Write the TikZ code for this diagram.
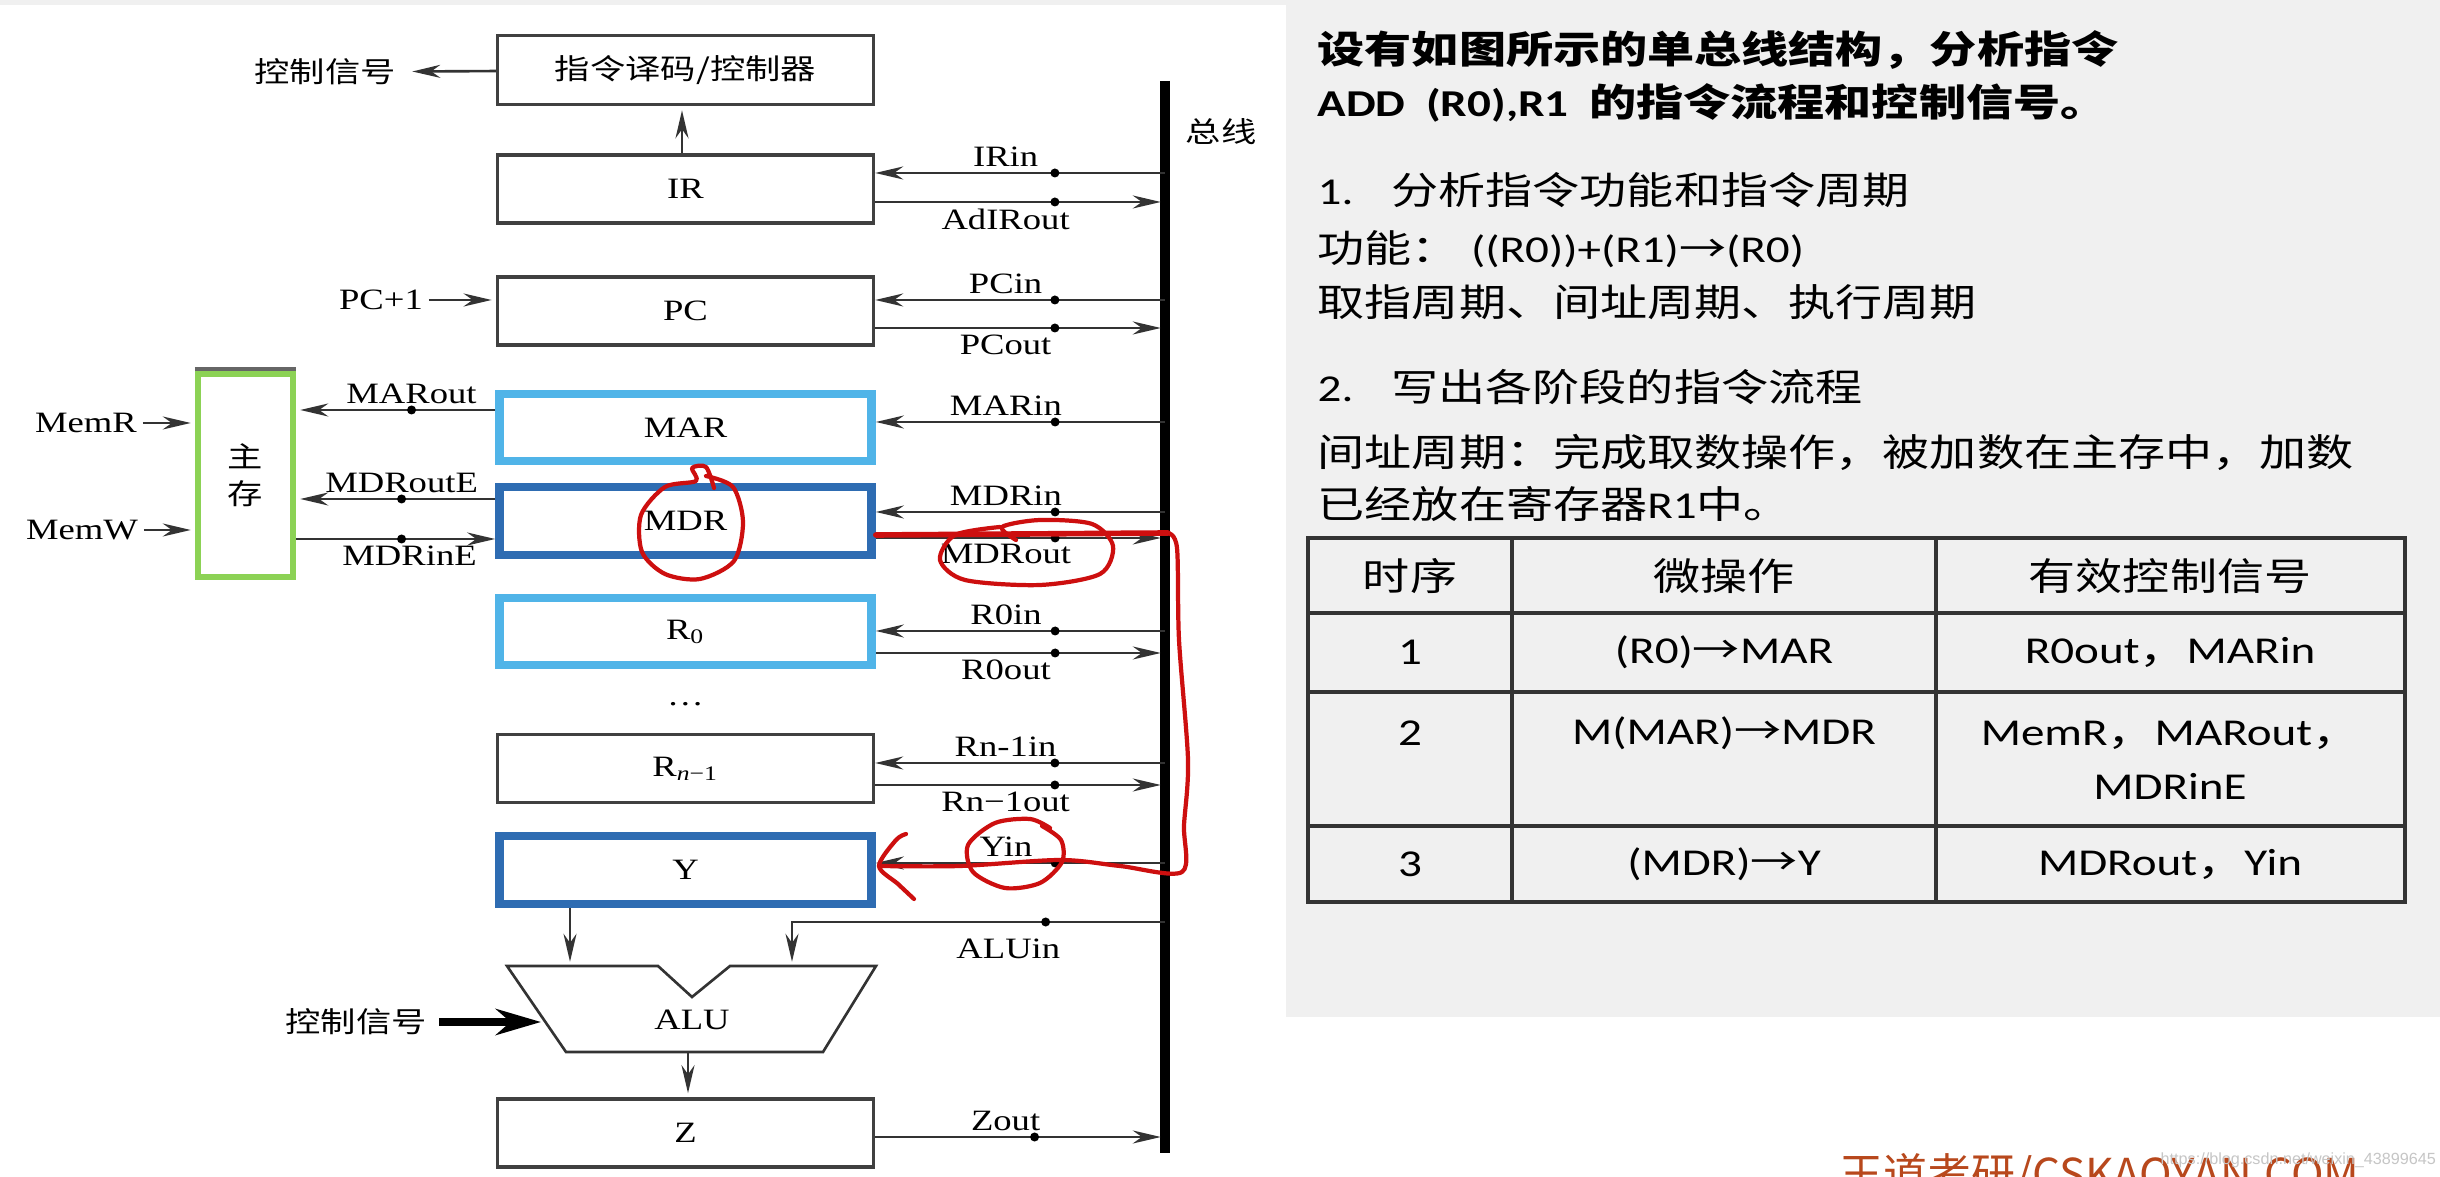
\documentclass[tikz,border=0pt]{standalone}
\usepackage{fontspec}
\setmainfont{Liberation Serif}[FakeStretch=1.24]
\newfontfamily\cjk{Noto Sans CJK SC}[FakeStretch=1.24]
\newfontfamily\enf{Carlito}[FakeStretch=1.24]
\newfontfamily\wmfont{Noto Sans CJK SC}
\newfontfamily\urlfont{Liberation Sans}
\usetikzlibrary{arrows.meta}
\definecolor{skyreg}{RGB}{80,180,232}
\definecolor{deepreg}{RGB}{46,108,178}
\definecolor{memgreen}{RGB}{140,210,85}
\definecolor{pen}{RGB}{205,15,15}
\definecolor{brand}{RGB}{184,72,28}
\newcommand\labfont{\fontsize{8.4pt}{10pt}\selectfont}
\newcommand\cnfont{\cjk\fontsize{8.1pt}{10.5pt}\selectfont}
\newcommand\txfont{\cjk\fontsize{10.8pt}{15.4pt}\selectfont}
\newcommand\eng[1]{{\enf #1}}

\begin{document}
\begin{tikzpicture}[x=0.01cm, y=-0.01cm,
    reg/.style={draw=black!75, line width=0.9pt, minimum width=3.76cm, minimum height=0.68cm, inner sep=0pt, font=\labfont},
    regsky/.style={reg, draw=skyreg, line width=2.4pt, minimum width=3.72cm, minimum height=0.67cm},
    regdeep/.style={reg, draw=deepreg, line width=2.4pt, minimum width=3.72cm, minimum height=0.68cm},
    sig/.style={draw=black!80, line width=0.75pt},
    sigin/.style={sig, {Stealth[length=2.8mm,width=1.3mm]}-},
    sigout/.style={sig, -{Stealth[length=2.8mm,width=1.3mm]}, shorten >=1.2pt},
    jdot/.style={circle, fill=black, inner sep=0pt, minimum size=0.09cm},
    lab/.style={font=\labfont, inner sep=1.5pt},
    hand/.style={draw=pen, line width=1.2pt, line cap=round, line join=round},
    txt/.style={anchor=west, font=\txfont, inner sep=0pt},
    cell/.style={font=\txfont, inner sep=0pt, align=center},
    tbl/.style={draw=black!80, line width=1pt}]

  % background
  \useasboundingbox (0,0) rectangle (2440,1177);
  \fill[black!6] (0,0) rectangle (2440,1177);
  \fill[white] (0,5) rectangle (1286,1177);
  \fill[white] (1286,1017) rectangle (2440,1177);

  % bus
  \coordinate (bustop) at (1165,81);
  \coordinate (busbot) at (1165,1153);
  \draw[line width=2.6pt] (bustop) -- (busbot);
  \node[font=\cnfont] (buslab) at (1221,132) {总线};

  % registers
  \node[reg, minimum height=0.69cm, font=\cnfont] (cu) at (685.5,70) {指令译码/控制器};
  \node[reg] (ir) at (685.5,189) {IR};
  \node[reg] (pc) at (685.5,311) {PC};
  \node[regsky] (mar) at (685.5,427.5) {MAR};
  \node[regdeep] (mdr) at (685.5,521) {MDR};
  \node[regsky] (r0) at (685.5,631.5) {R\textsubscript{0}};
  \node[font=\labfont] (vdots) at (685.5,704) {…};
  \node[reg] (rn) at (685.5,768.5) {R\textsubscript{\textit{n}−1}};
  \node[regdeep] (yreg) at (685.5,870) {Y};
  \node[reg] (zreg) at (685.5,1133) {Z};

  % main memory
  \node[draw=memgreen, line width=1.7pt, minimum width=0.95cm, minimum height=2.03cm, inner sep=0pt, align=center, font=\cnfont] (mem) at (245.5,475.5) {主\\存};
  \draw[black!60, line width=1.2pt] ([yshift=0.6pt]mem.north west) -- ([yshift=0.6pt]mem.north east);

  % controller
  \node[font=\cnfont] (cs1) at (325,72) {控制信号};
  \draw[sigout] (cu) -- (cs1);
  \draw[sigout] (ir.north -| 682,0) -- (cu.south -| 682,0);
  \node[lab] (pcone) at (381,300) {PC+1};
  \draw[sigout] (pcone) -- (pc.west |- pcone);

  % bus lines
  \draw[sigin] (ir.east |- 0,173) -- (bustop |- 0,173) node[jdot,pos=.62]{} node[lab,above,pos=.45]{IRin};
  \draw[sigout] (ir.east |- 0,202) -- (bustop |- 0,202) node[jdot,pos=.62]{} node[lab,below,pos=.45]{AdIRout};
  \draw[sigin] (pc.east |- 0,300) -- (bustop |- 0,300) node[jdot,pos=.62]{} node[lab,above,pos=.45]{PCin};
  \draw[sigout] (pc.east |- 0,328) -- (bustop |- 0,328) node[jdot,pos=.62]{} node[lab,below,pos=.45]{PCout};
  \draw[sigin] (mar.east |- 0,422) -- (bustop |- 0,422) node[jdot,pos=.62]{} node[lab,above,pos=.45]{MARin};
  \draw[sigin] (mdr.east |- 0,512) -- (bustop |- 0,512) node[jdot,pos=.62]{} node[lab,above,pos=.45]{MDRin};
  \draw[sigout] (mdr.east |- 0,538) -- (bustop |- 0,538) node[jdot,pos=.62]{} node[lab,below,pos=.45]{MDRout};
  \draw[sigin] (r0.east |- 0,631) -- (bustop |- 0,631) node[jdot,pos=.62]{} node[lab,above,pos=.45]{R0in};
  \draw[sigout] (r0.east |- 0,653) -- (bustop |- 0,653) node[jdot,pos=.62]{} node[lab,below,pos=.45]{R0out};
  \draw[sigin] (rn.east |- 0,763) -- (bustop |- 0,763) node[jdot,pos=.62]{} node[lab,above,pos=.45]{Rn-1in};
  \draw[sigout] (rn.east |- 0,785) -- (bustop |- 0,785) node[jdot,pos=.62]{} node[lab,below,pos=.45]{Rn−1out};
  \draw[sigin] (yreg.east |- 0,863) -- (bustop |- 0,863) node[jdot,pos=.62]{} node[lab,above,pos=.45]{Yin};
  \draw[sigout] (zreg.east |- 0,1137) -- (bustop |- 0,1137) node[jdot,pos=.55]{} node[lab,above,pos=.45]{Zout};

  % memory lines
  \draw[sigout] (mar.west |- 0,410) -- (mem.east |- 0,410) node[jdot,pos=.42]{} node[lab,above,pos=.42]{MARout};
  \draw[sigout] (mdr.west |- 0,499) -- (mem.east |- 0,499) node[jdot,pos=.47]{} node[lab,above,pos=.47]{MDRoutE};
  \draw[sigin] (mdr.west |- 0,539) -- (mem.east |- 0,539) node[jdot,pos=.47]{} node[lab,below,pos=.43]{MDRinE};
  \node[lab] (memr) at (86,423) {MemR};
  \node[lab] (memw) at (82,530) {MemW};
  \draw[sigout] (memr) -- (mem.west |- memr);
  \draw[sigout] (memw) -- (mem.west |- memw);

  % ALU
  \coordinate (alul) at (570,966);
  \coordinate (alur) at (792,966);
  \coordinate (alub) at (688,1052);
  \coordinate (aluside) at (541,1022);
  \draw[sig] (507,966) -- (658,966) -- (692,997) -- (730,966) -- (876,966) -- (823,1052) -- (566,1052) -- cycle;
  \node[font=\labfont] (alu) at (692,1020) {ALU};
  \draw[sigout] (yreg.south -| alul) -- (alul);
  \draw[sigout] (bustop |- 0,922) -| (alur) node[jdot,pos=.16]{} node[lab,below=3pt,pos=.21]{ALUin};
  \draw[sigout] (alub) -- (alub |- zreg.north);
  \node[font=\cnfont] (cs2) at (356,1022) {控制信号};
  \draw[-{Stealth[length=4.5mm,width=2.6mm]}, line width=2.2pt] (cs2) -- (aluside);

  % red pen marks
  \draw[hand] plot[smooth] coordinates {(714,488) (706,467) (692,468) (696,481) (665,487) (641,515) (642,552) (665,574) (700,579) (734,561) (743,522) (733,487) (706,476)};
  \draw[hand] plot[smooth] coordinates {(1016,540) (1002,527) (1040,520) (1092,524) (1113,546) (1100,574) (1040,585) (965,580) (940,560) (955,535) (1000,527)};
  \draw[hand] plot[smooth] coordinates {(1042,826) (1061,840) (1062,862) (1040,883) (1005,888) (973,872) (968,845) (995,823) (1030,819) (1050,828)};
  \draw[hand, line width=1.6pt] (mdr.east |- 0,535) -- (1168,533);
  \draw[hand] plot[smooth] coordinates {(1168,533) (1177,548) (1179,640) (1188,760) (1184,825) (1182,872) (1120,866) (1060,860) (960,866) (879,866)};
  \draw[hand] plot[smooth] coordinates {(906,834) (896,840) (879,866) (898,884) (914,899)};

  % right panel text
  \node[txt] (t1) at (1317,50) {\bfseries 设有如图所示的单总线结构，分析指令};
  \node[txt] (t2) at (1317,103) {\bfseries \eng{\bfseries ADD\hspace{0.1cm} (R0),R1}\hspace{0.1cm} 的指令流程和控制信号。};
  \node[txt] (t3) at (1317,190) {\eng{1.}\hspace{0.38cm}分析指令功能和指令周期};
  \node[txt] (t4) at (1317,249) {功能：\hspace{0.12cm}\eng{((R0))+(R1)}→\eng{(R0)}};
  \node[txt] (t5) at (1317,302) {取指周期、间址周期、执行周期};
  \node[txt] (t6) at (1317,387) {\eng{2.}\hspace{0.38cm}写出各阶段的指令流程};
  \node[txt] (t7) at (1317,452) {间址周期：完成取数操作，被加数在主存中，加数};
  \node[txt] (t8) at (1317,504) {已经放在寄存器\eng{R1}中。};

  % table
  \draw[tbl] (1308,538) rectangle (2405,902);
  \draw[tbl] (1308,613) -- (2405,613) (1308,692) -- (2405,692) (1308,826) -- (2405,826);
  \draw[tbl] (1512,538) -- (1512,902) (1936,538) -- (1936,902);
  \node[cell] (h1) at (1410,576) {时序};
  \node[cell] (h2) at (1724,576) {微操作};
  \node[cell] (h3) at (2170,576) {有效控制信号};
  \node[cell] (a1) at (1410,652) {\eng{1}};
  \node[cell] (a2) at (1724,652) {\eng{(R0)}→\eng{MAR}};
  \node[cell] (a3) at (2170,652) {\eng{R0out}，\eng{MARin}};
  \node[cell] (b1) at (1410,733) {\eng{2}};
  \node[cell] (b2) at (1724,733) {\eng{M(MAR)}→\eng{MDR}};
  \node[cell] (b3) at (2170,760) {\eng{MemR}，\eng{MARout}，\\\eng{MDRinE}};
  \node[cell] (c1) at (1410,864) {\eng{3}};
  \node[cell] (c2) at (1724,864) {\eng{(MDR)}→\eng{Y}};
  \node[cell] (c3) at (2170,864) {\eng{MDRout}，\eng{Yin}};

  % watermarks
  \node[anchor=base west, font=\wmfont\fontsize{12.5pt}{14pt}\selectfont, text=brand, inner sep=0pt] (wm) at (1839,1190) {王道考研/CSKAOYAN.COM};
  \node[anchor=west, font=\urlfont\fontsize{4.6pt}{5pt}\selectfont, text=gray!45, inner sep=0pt] (url) at (2160,1160) {https://blog.csdn.net/weixin\_43899645};
\end{tikzpicture}
\end{document}
